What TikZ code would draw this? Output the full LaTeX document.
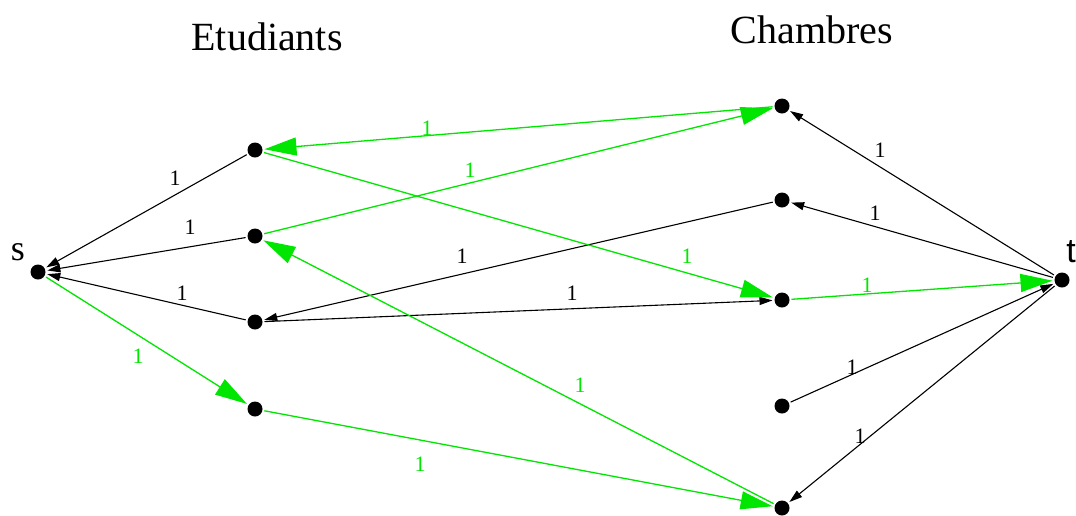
\documentclass[tikz,border=0pt]{standalone}
\usepackage{fontspec}
\setmainfont{Liberation Serif}
\newfontfamily\tsans{Liberation Sans}
\usetikzlibrary{arrows.meta}
\definecolor{fgreen}{RGB}{0,230,0}
\begin{document}
\begin{tikzpicture}[x=1pt,y=-1pt,
  dot/.style={circle,fill=black,inner sep=0pt,minimum size=15pt,outer sep=2pt},
  blk/.style={draw=black,line width=1.1pt,-{Triangle[length=13pt,width=8pt]}},
  grn/.style={draw=fgreen,line width=1.3pt,-{Triangle[length=32pt,width=18pt]}},
  lb/.style={font=\fontsize{22}{22}\selectfont,text=black,inner sep=0pt},
  lg/.style={font=\fontsize{22}{22}\selectfont,text=fgreen,inner sep=0pt}]
\useasboundingbox (0,0) rectangle (1076,515);
\node[font=\fontsize{40}{40}\selectfont] (et) at (267,37) {Etudiants};
\node[font=\fontsize{40}{40}\selectfont] (ch) at (812,30) {Chambres};
\node[font=\fontsize{36}{36}\selectfont] (sl) at (18,252) {s};
\node[font=\tsans\fontsize{34}{34}\selectfont] (tl) at (1071,252) {t};
\node[dot] (s) at (38,272) {};
\node[dot] (e1) at (255,150) {};
\node[dot] (e2) at (255,236) {};
\node[dot] (e3) at (255,322) {};
\node[dot] (e4) at (255,409) {};
\node[dot] (c1) at (782,106) {};
\node[dot] (c2) at (782,200) {};
\node[dot] (c3) at (782,300) {};
\node[dot] (c4) at (782,406) {};
\node[dot] (c5) at (782,508) {};
\node[dot] (t) at (1062,280) {};
% black edges
\draw[blk] (e1) -- (s);
\draw[blk] (e2) -- (s);
\draw[blk] (e3) -- (s);
\draw[blk] (c2) -- (e3);
\draw[blk] (e3) -- (c3);
\draw[blk] (t) -- (c1);
\draw[blk] (t) -- (c2);
\draw[blk] (c4) -- (t);
\draw[blk] (t) -- (c5);
% green edges
\draw[grn] (s) -- (e4);
\draw[grn] (c1) -- (e1);
\draw[grn] (e2) -- (c1);
\draw[grn] (e1) -- (c3);
\draw[grn] (e4) -- (c5);
\draw[grn] (c5) -- (e2);
\draw[grn] (c3) -- (t);
% labels
\node[lb] (l1) at (175,178) {1};
\node[lb] (l2) at (190,227) {1};
\node[lb] (l3) at (182,293) {1};
\node[lg] (l4) at (138,356) {1};
\node[lg] (l5) at (427,128) {1};
\node[lg] (l6) at (470,170) {1};
\node[lg] (l7) at (687,256) {1};
\node[lb] (l8) at (462,256) {1};
\node[lb] (l9) at (572,293) {1};
\node[lg] (l10) at (420,464) {1};
\node[lg] (l11) at (580,385) {1};
\node[lb] (l12) at (880,150) {1};
\node[lb] (l13) at (875,213) {1};
\node[lg] (l14) at (867,285) {1};
\node[lb] (l15) at (852,367) {1};
\node[lb] (l16) at (860,436) {1};
\end{tikzpicture}
\end{document}
